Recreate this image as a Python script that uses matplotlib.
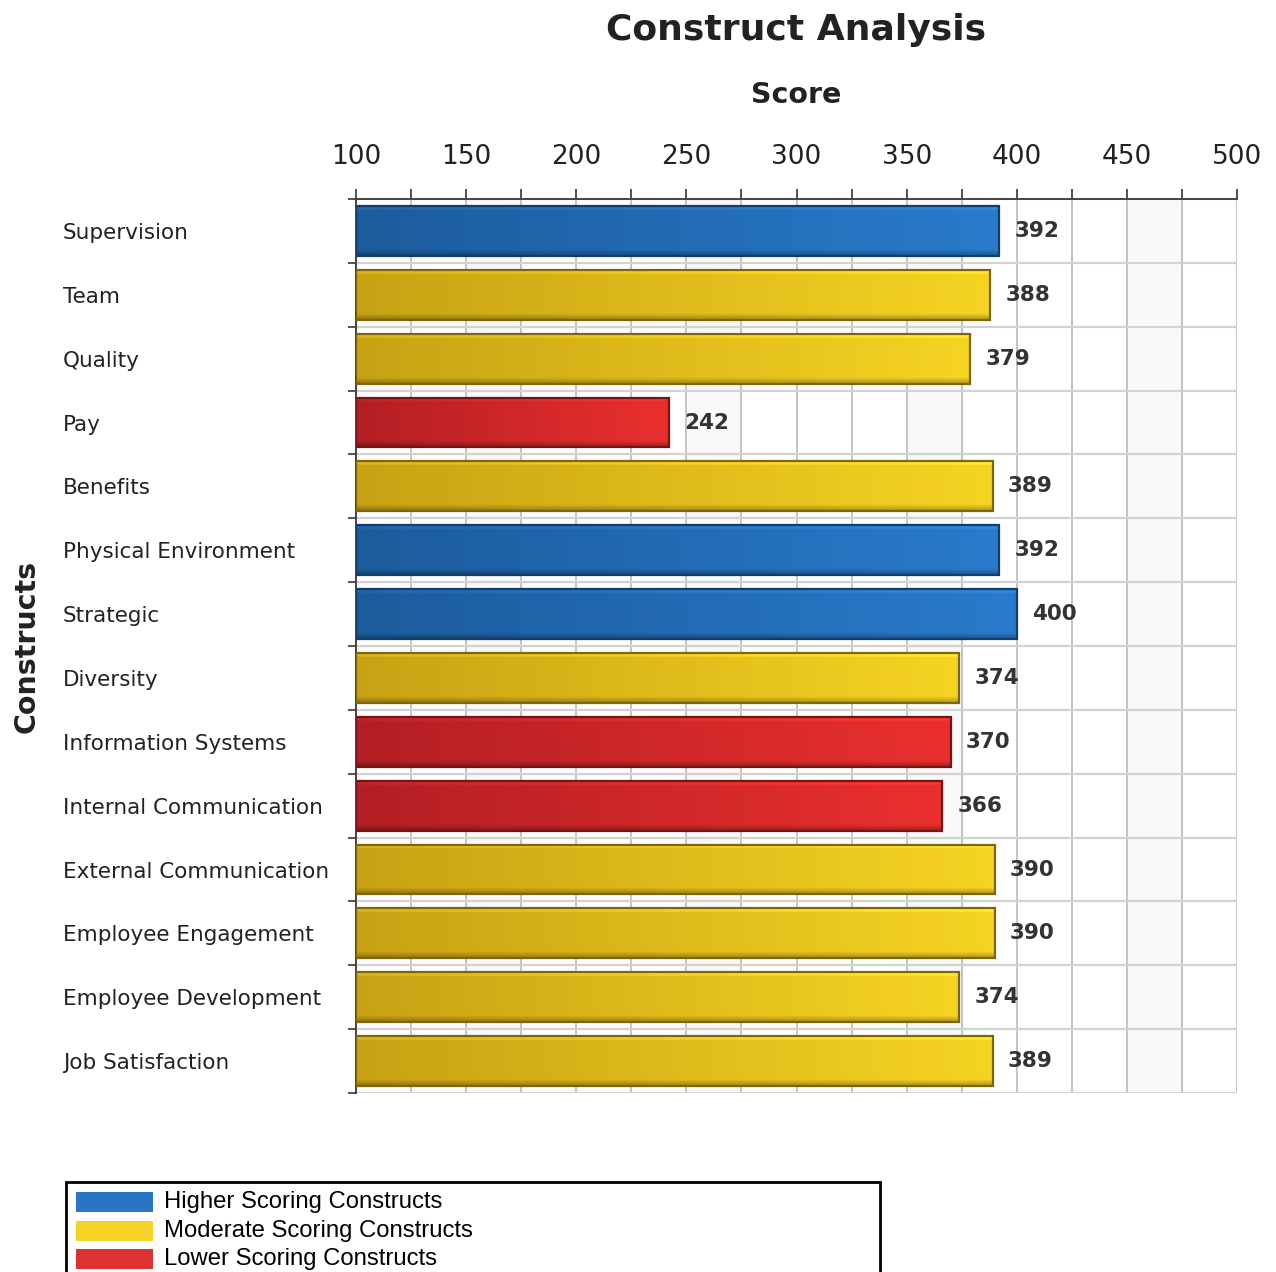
import numpy as np
import matplotlib
matplotlib.use("Agg")
import matplotlib.pyplot as plt
from matplotlib.patches import Rectangle
from matplotlib.colors import to_rgb

constructs = [
    "Supervision", "Team", "Quality", "Pay", "Benefits",
    "Physical Environment", "Strategic", "Diversity", "Information Systems",
    "Internal Communication", "External Communication", "Employee Engagement",
    "Employee Development", "Job Satisfaction",
]
scores = [392, 388, 379, 242, 389, 392, 400, 374, 370, 366, 390, 390, 374, 389]
groups = ["high", "mod", "mod", "low", "mod", "high", "high", "mod", "low",
          "low", "mod", "mod", "mod", "mod"]

legend_keys = ["high", "mod", "low"]
legend_labels = ["Higher Scoring Constructs", "Moderate Scoring Constructs",
                 "Lower Scoring Constructs"]

X_MIN, X_MAX = 100, 500

# left (shadowed) colour, right (lit) colour, outline, flat legend swatch
PALETTE = {
    "high": ("#1c5c9c", "#2a7bcc", "#123d6b", "#2a74c4"),
    "mod": ("#c7a214", "#f6d422", "#7d6610", "#f5d327"),
    "low": ("#b31f24", "#ea302e", "#761313", "#dc3232"),
}

W, H, DPI = 1276, 1272, 100
fig = plt.figure(figsize=(W / DPI, H / DPI), dpi=DPI)
ax = fig.add_axes([356 / W, 1 - 1093 / H, (1237 - 356) / W, (1093 - 199) / H])

n = len(constructs)
ypos = np.arange(n)
ax.set_xlim(X_MIN, X_MAX)
ax.set_ylim(n - 0.5, -0.5)

# faint alternating column bands + grid
for x0 in range(150, X_MAX, 100):
    ax.axvspan(x0, x0 + 25, color="#f9f9f9", zorder=0)
for x in range(X_MIN + 25, X_MAX + 1, 25):
    ax.axvline(x, color="#bfbfbf", lw=1.3, zorder=1)
for b in np.arange(-0.5, n, 1.0):
    ax.axhline(b, color="#d2d2d2", lw=1.6, zorder=1)

bar_h = 0.78
bars = ax.barh(ypos, np.array(scores) - X_MIN, left=X_MIN, height=bar_h,
               color="none", zorder=3)


def gradient_image(left, right, rows=40, cols=200):
    l = np.array(to_rgb(left))
    r = np.array(to_rgb(right))
    t = np.linspace(0, 1, cols)[None, :, None]
    img = l + (r - l) * t
    img = np.repeat(img, rows, axis=0)
    shade = np.ones(rows)
    shade[:3] = 1.12
    shade[-5:] = np.linspace(0.95, 0.72, 5)
    return np.clip(img * shade[:, None, None], 0, 1)


for patch, g in zip(bars, groups):
    left_c, right_c, edge_c, _ = PALETTE[g]
    x0, y0 = patch.get_x(), patch.get_y()
    w, h = patch.get_width(), patch.get_height()
    im = ax.imshow(gradient_image(left_c, right_c), extent=(x0, x0 + w, y0 + h, y0),
                   aspect="auto", interpolation="bilinear", zorder=3)
    im.set_clip_path(patch)
    ax.add_patch(Rectangle((x0, y0), w, h, fill=False, edgecolor=edge_c,
                           lw=1.6, zorder=4))

ax.set_aspect("auto")
ax.set_xlim(X_MIN, X_MAX)
ax.set_ylim(n - 0.5, -0.5)

for y, s in zip(ypos, scores):
    ax.annotate(str(s), (s, y), xytext=(11, 0), textcoords="offset points",
                ha="left", va="center", fontsize=15.5, fontweight="bold",
                color="#333333", zorder=5)

# top value axis
ax.xaxis.tick_top()
ax.set_xticks(range(X_MIN, X_MAX + 1, 50))
ax.set_xticks(range(X_MIN + 25, X_MAX, 25), minor=True)
ax.tick_params(axis="x", which="both", direction="out", length=7, width=1.3,
               color="#444444")
ax.tick_params(axis="x", which="major", labelsize=19, pad=14, labelcolor="#222222")

# category axis: labels left-aligned far out, ticks on row boundaries
ax.set_yticks(ypos)
ax.set_yticklabels(constructs)
ax.set_yticks(np.arange(-0.5, n, 1.0), minor=True)
ax.tick_params(axis="y", which="major", length=0, pad=211, labelsize=15.5,
               labelcolor="#222222")
for lbl in ax.get_yticklabels():
    lbl.set_ha("left")
ax.tick_params(axis="y", which="minor", direction="out", length=6, width=1.3,
               color="#444444")

for side in ("right", "bottom"):
    ax.spines[side].set_visible(False)
for side in ("top", "left"):
    ax.spines[side].set_color("#444444")
    ax.spines[side].set_linewidth(1.4)

ax.set_xlabel("Score", fontsize=20.5, fontweight="bold", color="#222222")
ax.xaxis.set_label_position("top")
ax.xaxis.set_label_coords(0.5, 1.1163)
ax.xaxis.label.set_va("center")

ax.set_ylabel("Constructs", fontsize=20.5, fontweight="bold", color="#222222")
ax.yaxis.set_label_coords(-0.3734, 0.5)
ax.yaxis.label.set_va("center")

fig.text(796 / W, 1 - 30 / H, "Construct Analysis", ha="center", va="center",
         fontsize=26, fontweight="bold", color="#222222")

# legend box, drawn in figure pixels
fig.patches.append(Rectangle((66 / W, 1 - 1290 / H), (880 - 66) / W, (1290 - 1182) / H,
                             transform=fig.transFigure, fill=False,
                             edgecolor="black", lw=2))
for i, (key, text) in enumerate(zip(legend_keys, legend_labels)):
    cy = 1202 + 28.5 * i
    fig.patches.append(Rectangle((76 / W, 1 - (cy + 10) / H), 77 / W, 20 / H,
                                 transform=fig.transFigure,
                                 facecolor=PALETTE[key][3], edgecolor="none"))
    fig.text(164 / W, 1 - cy / H, text, ha="left", va="center",
             fontsize=17.2, family="Liberation Sans", color="black")

fig.savefig("out.png", dpi=DPI, facecolor="white")
